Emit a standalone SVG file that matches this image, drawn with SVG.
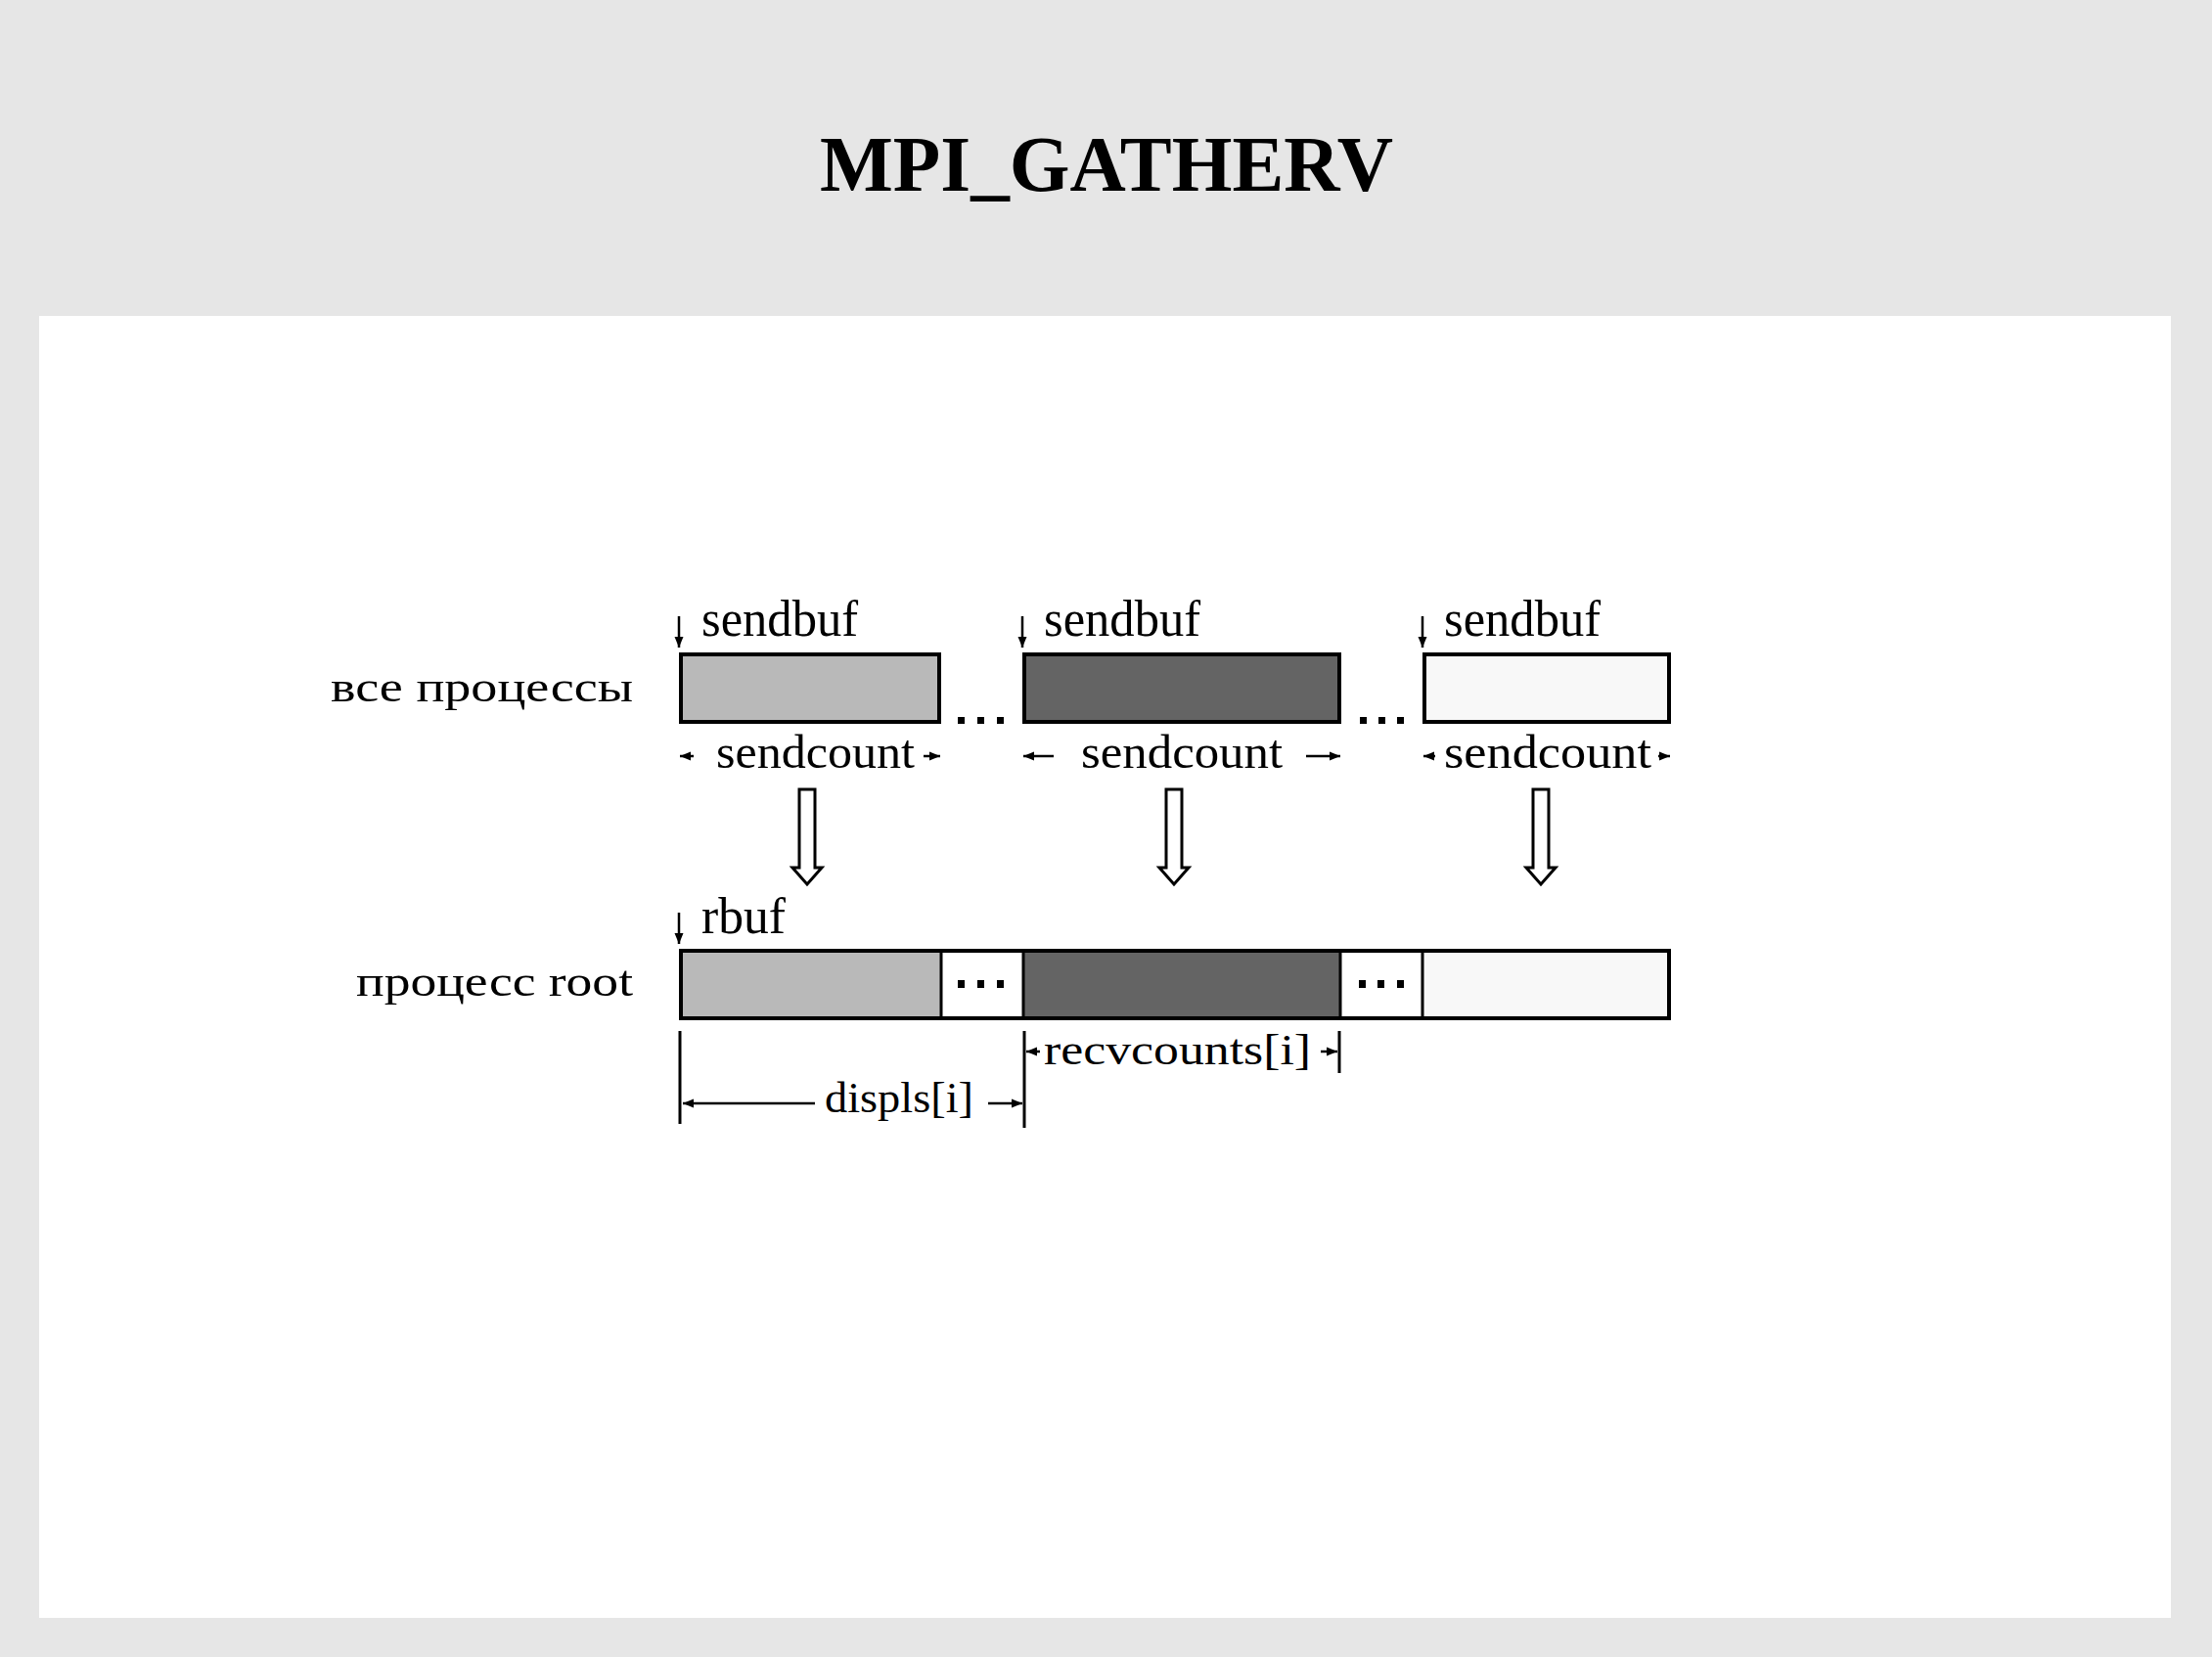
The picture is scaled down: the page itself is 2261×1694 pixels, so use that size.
<svg xmlns="http://www.w3.org/2000/svg" width="2261" height="1694" viewBox="0 0 2261 1694">
<defs>
<style>
.t{font-family:"Liberation Serif","Times New Roman",serif;fill:#000}
.title{font-family:"Liberation Serif","Times New Roman",serif;font-weight:bold;font-size:80px;fill:#000}
.box{stroke:#000;stroke-width:4}
.div{stroke:#000;stroke-width:3}
.ln{stroke:#000;stroke-width:2.5;fill:none}
.vl{stroke:#000;stroke-width:3;fill:none}
.hollow{fill:#fff;stroke:#000;stroke-width:3;stroke-linejoin:miter}
.dot{fill:#000}
</style>
<marker id="ah" markerUnits="userSpaceOnUse" markerWidth="12" markerHeight="10" refX="11" refY="5" orient="auto">
<path d="M0,0.5 L11,5 L0,9.5 z" fill="#000"/>
</marker>
</defs>
<rect x="0" y="0" width="2261" height="1694" fill="#e6e6e6"/>
<rect x="40" y="323" width="2179" height="1331" fill="#ffffff"/>
<text class="title" x="838" y="195" textLength="586" lengthAdjust="spacingAndGlyphs">MPI_GATHERV</text>

<g id="label-all">
<text class="t" x="338" y="717" font-size="44" textLength="309" lengthAdjust="spacingAndGlyphs">все процессы</text>
</g>
<g id="label-root">
<text class="t" x="364" y="1018" font-size="44" textLength="283" lengthAdjust="spacingAndGlyphs">процесс root</text>
</g>

<g id="send1">
<rect class="box" x="696" y="669" width="264" height="69" fill="#b9b9b9"/>
<text class="t" x="717" y="650" font-size="53" textLength="160" lengthAdjust="spacingAndGlyphs">sendbuf</text>
<text class="t" x="732" y="785" font-size="48" textLength="203" lengthAdjust="spacingAndGlyphs">sendcount</text>
</g>
<g id="send2">
<rect class="box" x="1047" y="669" width="322" height="69" fill="#646464"/>
<text class="t" x="1067" y="650" font-size="53" textLength="160" lengthAdjust="spacingAndGlyphs">sendbuf</text>
<text class="t" x="1105" y="785" font-size="48" textLength="206" lengthAdjust="spacingAndGlyphs">sendcount</text>
</g>
<g id="send3">
<rect class="box" x="1456" y="669" width="250" height="69" fill="#f8f8f8"/>
<text class="t" x="1476" y="650" font-size="53" textLength="160" lengthAdjust="spacingAndGlyphs">sendbuf</text>
<text class="t" x="1476" y="785" font-size="48" textLength="212" lengthAdjust="spacingAndGlyphs">sendcount</text>
</g>
<g id="dots-top">
<rect class="dot" x="979" y="733" width="7" height="7"/>
<rect class="dot" x="999" y="733" width="7" height="7"/>
<rect class="dot" x="1019" y="733" width="7" height="7"/>
<rect class="dot" x="1390" y="733" width="7" height="7"/>
<rect class="dot" x="1409" y="733" width="7" height="7"/>
<rect class="dot" x="1428" y="733" width="7" height="7"/>
</g>

<g id="rbuf">
<rect x="696" y="972" width="266" height="69" fill="#b9b9b9"/>
<rect x="962" y="972" width="84" height="69" fill="#ffffff"/>
<rect x="1046" y="972" width="324" height="69" fill="#646464"/>
<rect x="1370" y="972" width="84" height="69" fill="#ffffff"/>
<rect x="1454" y="972" width="252" height="69" fill="#f8f8f8"/>
<line class="div" x1="962" y1="972" x2="962" y2="1041"/>
<line class="div" x1="1046" y1="972" x2="1046" y2="1041"/>
<line class="div" x1="1370" y1="972" x2="1370" y2="1041"/>
<line class="div" x1="1454" y1="972" x2="1454" y2="1041"/>
<rect class="box" x="696" y="972" width="1010" height="69" fill="none"/>
<rect class="dot" x="979" y="1002" width="7" height="8"/>
<rect class="dot" x="999" y="1002" width="7" height="8"/>
<rect class="dot" x="1019" y="1002" width="7" height="8"/>
<rect class="dot" x="1389" y="1002" width="7" height="8"/>
<rect class="dot" x="1408" y="1002" width="7" height="8"/>
<rect class="dot" x="1428" y="1002" width="7" height="8"/>
<text class="t" x="717" y="954" font-size="52" textLength="86" lengthAdjust="spacingAndGlyphs">rbuf</text>
</g>

<g id="dims">
<text class="t" x="843" y="1137" font-size="44" textLength="152" lengthAdjust="spacingAndGlyphs">displs[i]</text>
<text class="t" x="1067" y="1088" font-size="44" textLength="273" lengthAdjust="spacingAndGlyphs">recvcounts[i]</text>
</g>

<g id="connectors">
<!-- sendbuf pointers -->
<line class="ln" x1="694" y1="630" x2="694" y2="662" marker-end="url(#ah)"/>
<line class="ln" x1="1045" y1="630" x2="1045" y2="662" marker-end="url(#ah)"/>
<line class="ln" x1="1454" y1="630" x2="1454" y2="662" marker-end="url(#ah)"/>
<line class="ln" x1="694" y1="933" x2="694" y2="965" marker-end="url(#ah)"/>
<!-- sendcount arrows -->
<line class="ln" x1="709" y1="773" x2="695" y2="773" marker-end="url(#ah)"/>
<line class="ln" x1="944" y1="773" x2="961" y2="773" marker-end="url(#ah)"/>
<line class="ln" x1="1077" y1="773" x2="1046" y2="773" marker-end="url(#ah)"/>
<line class="ln" x1="1335" y1="773" x2="1370" y2="773" marker-end="url(#ah)"/>
<line class="ln" x1="1467" y1="773" x2="1455" y2="773" marker-end="url(#ah)"/>
<line class="ln" x1="1695" y1="773" x2="1707" y2="773" marker-end="url(#ah)"/>
<!-- hollow transfer arrows -->
<polygon class="hollow" points="817,807 833,807 833,887 840,887 825,904 810,887 817,887"/>
<polygon class="hollow" points="1192,807 1208,807 1208,887 1215,887 1200,904 1185,887 1192,887"/>
<polygon class="hollow" points="1567,807 1583,807 1583,887 1590,887 1575,904 1560,887 1567,887"/>
<!-- displs / recvcounts -->
<line class="vl" x1="695" y1="1054" x2="695" y2="1149"/>
<line class="vl" x1="1047" y1="1054" x2="1047" y2="1153"/>
<line class="vl" x1="1369" y1="1054" x2="1369" y2="1097"/>
<line class="ln" x1="833" y1="1128" x2="698" y2="1128" marker-end="url(#ah)"/>
<line class="ln" x1="1010" y1="1128" x2="1045" y2="1128" marker-end="url(#ah)"/>
<line class="ln" x1="1063" y1="1075" x2="1049" y2="1075" marker-end="url(#ah)"/>
<line class="ln" x1="1350" y1="1075" x2="1367" y2="1075" marker-end="url(#ah)"/>
</g>
</svg>
